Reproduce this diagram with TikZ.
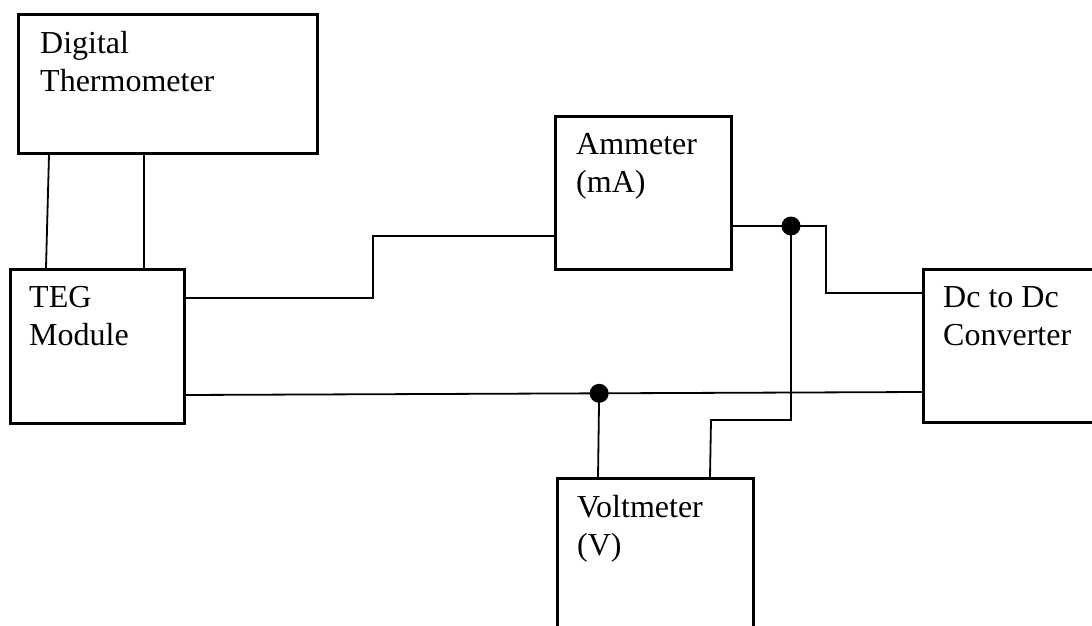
\documentclass[tikz,border=0pt]{standalone}
\usepackage{fontspec}
\setmainfont{Liberation Serif}
\usetikzlibrary{positioning,calc}

\begin{document}
\begin{tikzpicture}[
    x=1pt, y=-1pt,
    block/.style={draw, rectangle, line width=2.6pt, anchor=north west, inner sep=0pt},
    lbl/.style={anchor=north west, inner sep=0pt, align=left, font=\fontsize{32}{38}\selectfont},
    wire/.style={line width=1.8pt},
    dot/.style={circle, fill, inner sep=0pt, minimum size=19pt}
]
    \useasboundingbox (0,0) rectangle (1092,626);
    \clip (0,0) rectangle (1092,626);

    % Boxes
    \node [block, minimum width=299pt, minimum height=139pt] (therm) at (17,13) {};
    \node [block, minimum width=174pt, minimum height=154pt] (teg) at (9,268) {};
    \node [block, minimum width=176pt, minimum height=153pt] (amm) at (554,115) {};
    \node [block, minimum width=200pt, minimum height=153pt] (conv) at (922,268) {};
    \node [block, minimum width=196pt, minimum height=200pt] (volt) at (556,477) {};

    % Box texts
    \node [lbl] (thermtxt) at ($(therm.north west)+(23,18)$) {Digital\\Thermometer};
    \node [lbl] (tegtxt) at ($(teg.north west)+(20,18.5)$) {TEG\\Module};
    \node [lbl] (ammtxt) at ($(amm.north west)+(22,18.5)$) {Ammeter\\(mA)};
    \node [lbl] (convtxt) at ($(conv.north west)+(21,18.5)$) {Dc to Dc\\Converter};
    \node [lbl] (volttxt) at ($(volt.north west)+(21,18)$) {Voltmeter\\(V)};

    % Thermometer leads
    \draw [wire] ($(therm.south west)+(32,0)$) -- ($(teg.north west)+(37,0)$);
    \draw [wire] ($(therm.south west)+(127,0)$) -- ($(teg.north west)+(135,0)$);

    % TEG to ammeter
    \draw [wire] ($(teg.north east)+(0,30)$) -- ++(187,0) |- ($(amm.north west)+(0,121)$);

    % Ammeter to converter
    \node [dot] (jA) at (791,226) {};
    \draw [wire] ($(amm.north east)+(0,111)$) -- (jA.center) -- ++(35,0) |- ($(conv.north west)+(0,25)$);

    % Return line
    \draw [wire] ($(teg.north east)+(0,127)$) -- node [dot, pos=0.5616] (jV) {} ($(conv.north west)+(0,124)$);

    % Voltmeter leads
    \draw [wire] (jV.center) -- ($(volt.north west)+(42,0)$);
    \draw [wire] (jA.center) |- ($(volt.north west)+(155,-57)$) -- ($(volt.north west)+(154,0)$);

\end{tikzpicture}
\end{document}
